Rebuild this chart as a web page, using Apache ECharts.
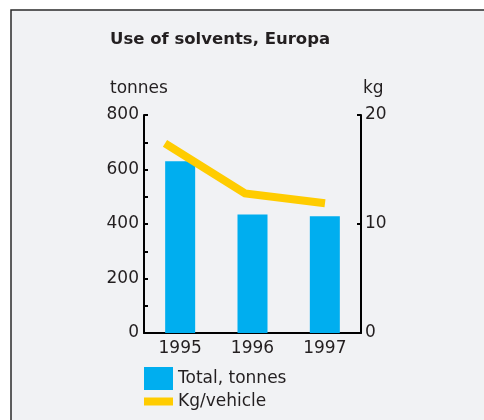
<!DOCTYPE html>
<html>
<head>
<meta charset="utf-8">
<script src="https://cdn.jsdelivr.net/npm/echarts@6/dist/echarts.min.js"></script>
<style>
  html, body { margin: 0; padding: 0; background: #ffffff; }
  #chart { width: 484px; height: 420px; }
</style>
</head>
<body>
<div id="chart"></div>
<script>
// Solvent use in Europe: total tonnes (bars) and kg per vehicle (line)
const years = ['1995', '1996', '1997'];
const totalTonnes = [630, 435, 428];
const kgPerVehicle = [17.4, 12.8, 11.9];
const tonnesTicks = { min: 0, max: 800, interval: 200 };
const kgTicks = { min: 0, max: 20, interval: 10 };

const FONT = 'DejaVu Sans';
const INK = '#231f20';
const BLUE = '#00aeef';
const YELLOW = '#ffcc00';

const chart = echarts.init(document.getElementById('chart'), null, { renderer: 'canvas' });

const axisLine = { show: true, lineStyle: { color: '#000', width: 2 } };
const labelStyle = { fontFamily: FONT, fontSize: 17, color: INK };

chart.setOption({
  backgroundColor: '#ffffff',
  animation: false,
  graphic: [
    {
      type: 'rect',
      z: -10,
      shape: { x: 11, y: 10, width: 520, height: 460 },
      style: { fill: '#f1f2f4', stroke: '#2a2a2a', lineWidth: 1.5 }
    },
    {
      type: 'text', left: 110, top: 80,
      style: { text: 'tonnes', font: '17px "DejaVu Sans"', fill: INK }
    },
    {
      type: 'text', left: 363, top: 80,
      style: { text: 'kg', font: '17px "DejaVu Sans"', fill: INK }
    }
  ],
  title: {
    text: 'Use of solvents, Europa',
    left: 110, top: 31, padding: 0,
    textStyle: { fontFamily: FONT, fontSize: 16.5, fontWeight: 'bold', color: INK }
  },
  legend: {
    orient: 'vertical',
    left: 144, top: 367,
    padding: 0,
    itemWidth: 29, itemHeight: 23, itemGap: 3,
    textStyle: labelStyle,
    selectedMode: false,
    data: [
      { name: 'Total, tonnes', icon: 'path://M0,0h29v23h-29z' },
      { name: 'Kg/vehicle', icon: 'path://M0,0h29v8h-29z' }
    ]
  },
  grid: [
    { left: 144, right: 123, top: 115, bottom: 87 },
    { left: 165, right: 159, top: 115, bottom: 87 }
  ],
  xAxis: [
    {
      type: 'category', gridIndex: 0, data: years,
      axisLine: Object.assign({ onZero: false }, axisLine),
      axisTick: { show: false },
      axisLabel: Object.assign({ margin: 7 }, labelStyle)
    },
    {
      type: 'category', gridIndex: 1, data: years, boundaryGap: false, show: false
    }
  ],
  yAxis: [
    {
      type: 'value', gridIndex: 0, position: 'left',
      min: tonnesTicks.min, max: tonnesTicks.max, interval: tonnesTicks.interval,
      axisLine: axisLine,
      axisTick: { show: true, inside: true, length: 4, lineStyle: { color: '#000', width: 2 } },
      minorTick: { show: true, splitNumber: 2, length: 4, lineStyle: { color: '#000', width: 2 } },
      splitLine: { show: false },
      axisLabel: Object.assign({ margin: 5 }, labelStyle)
    },
    {
      type: 'value', gridIndex: 0, position: 'right',
      min: kgTicks.min, max: kgTicks.max, interval: kgTicks.interval,
      axisLine: axisLine,
      axisTick: { show: true, inside: true, length: 4, lineStyle: { color: '#000', width: 2 } },
      splitLine: { show: false },
      axisLabel: Object.assign({ margin: 4 }, labelStyle)
    },
    {
      type: 'value', gridIndex: 1, min: kgTicks.min, max: kgTicks.max, show: false
    }
  ],
  series: [
    {
      name: 'Total, tonnes',
      type: 'bar',
      xAxisIndex: 0, yAxisIndex: 0,
      data: totalTonnes,
      barWidth: 30,
      color: BLUE,
      itemStyle: { color: BLUE }
    },
    {
      name: 'Kg/vehicle',
      type: 'line',
      xAxisIndex: 1, yAxisIndex: 2,
      data: kgPerVehicle,
      color: YELLOW,
      showSymbol: false,
      symbol: 'none',
      itemStyle: { color: YELLOW },
      lineStyle: { color: YELLOW, width: 8, cap: 'butt', join: 'miter' },
      z: 3
    }
  ]
});
</script>
</body>
</html>
